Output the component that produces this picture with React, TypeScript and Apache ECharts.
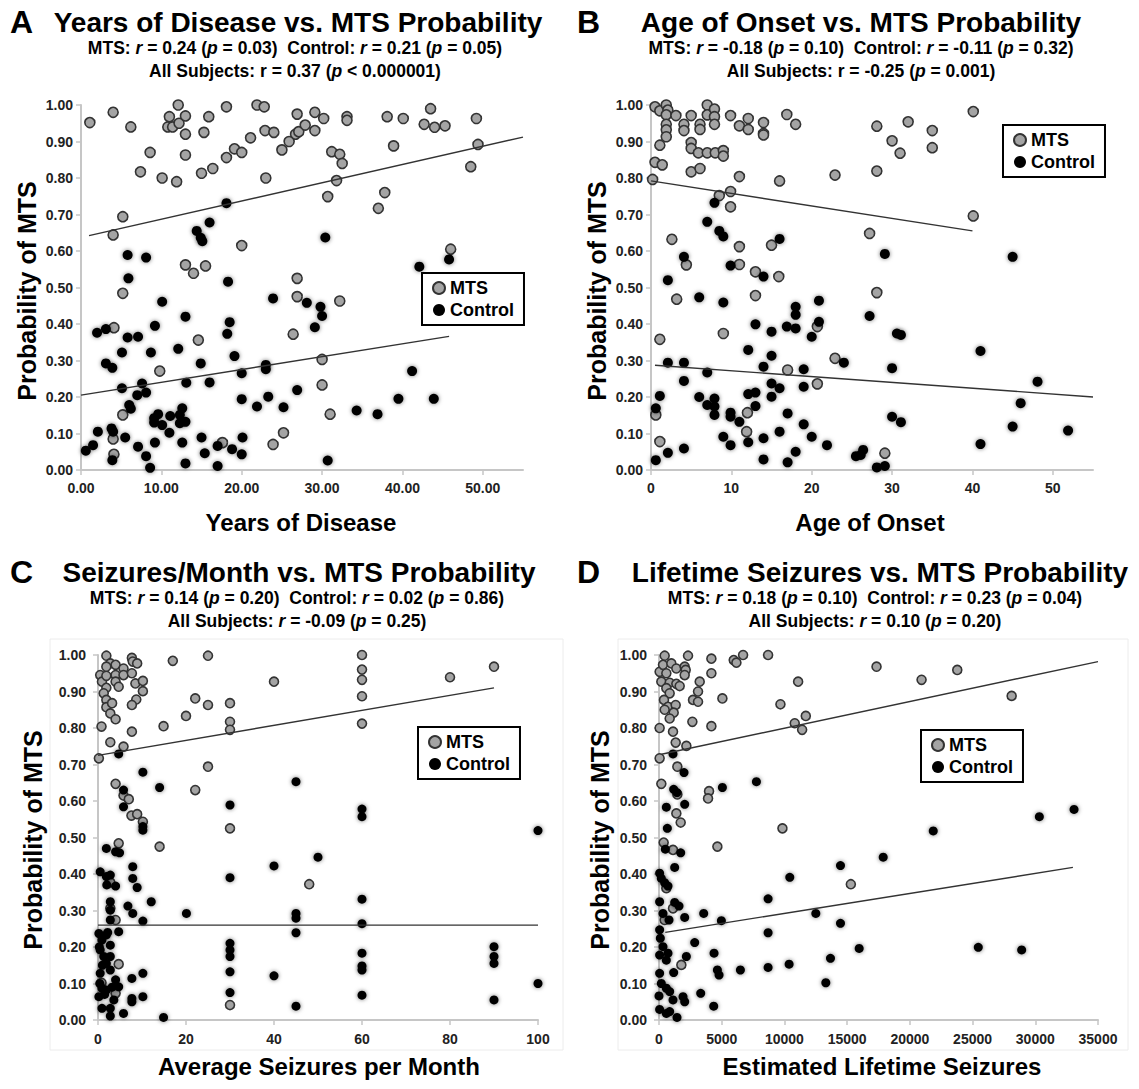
import React, { useEffect, useRef } from "react";
import * as echarts from "echarts";

const FONT = '"Liberation Sans", Arial, Helvetica, sans-serif';

// ---------- data (x, probability of MTS) ----------
const aMts: number[][] = [
  [1.1,0.952],[4.0,0.98],[6.2,0.94],[7.4,0.817],[8.6,0.87],[10.1,0.80],[11.0,0.968],[10.8,0.94],[11.4,0.94],[12.1,1.0],
  [12.2,0.95],[13.0,0.97],[13.0,0.92],[13.0,0.863],[11.9,0.79],[15.0,0.813],[15.9,0.968],[16.4,0.826],[15.3,0.925],[18.1,0.995],
  [18.1,0.856],[19.1,0.88],[20.0,0.87],[21.1,0.91],[21.9,1.0],[22.8,0.995],[22.9,0.93],[24.0,0.925],[23.0,0.80],[25.0,0.877],
  [25.9,0.90],[26.9,0.975],[26.7,0.92],[4.0,0.644],[5.2,0.694],[20.0,0.615],[13.0,0.562],[14.0,0.539],[15.5,0.559],[5.2,0.484],
  [4.1,0.39],[14.6,0.356],[9.8,0.271],[5.2,0.151],[4.0,0.085],[4.1,0.043],[17.6,0.075],[23.9,0.07],[25.2,0.102],[26.9,0.525],
  [26.9,0.475],[26.4,0.372],[27.1,0.927],[27.9,0.945],[29.1,0.98],[29.1,0.93],[30.2,0.963],[31.2,0.872],[32.2,0.865],[32.5,0.84],
  [33.1,0.968],[33.1,0.958],[31.8,0.793],[30.7,0.749],[38.1,0.968],[38.9,0.888],[37.8,0.76],[37.0,0.717],[40.1,0.963],[42.7,0.947],
  [43.5,0.99],[44.0,0.939],[45.3,0.943],[49.2,0.963],[49.4,0.892],[48.5,0.831],[46.0,0.605],[32.2,0.463],[30.0,0.303],[30.0,0.233],
  [31.0,0.153]
];
const aCtrl: number[][] = [
  [0.6,0.053],[1.5,0.068],[2.1,0.105],[2.0,0.376],[3.1,0.386],[3.1,0.292],[3.9,0.28],[5.1,0.224],[5.1,0.322],[5.8,0.363],
  [5.8,0.589],[5.9,0.525],[6.0,0.178],[6.2,0.168],[7.1,0.365],[7.0,0.205],[7.6,0.237],[8.1,0.212],[8.1,0.582],[8.7,0.322],
  [9.2,0.395],[10.1,0.461],[3.8,0.114],[4.0,0.105],[3.9,0.027],[5.5,0.089],[7.1,0.064],[8.1,0.038],[8.6,0.006],[9.2,0.075],
  [9.1,0.13],[9.6,0.153],[9.1,0.142],[10.1,0.123],[11.0,0.102],[11.1,0.148],[12.3,0.151],[12.6,0.169],[12.3,0.128],[13.0,0.132],
  [12.6,0.075],[13.0,0.018],[12.1,0.332],[13.0,0.42],[13.1,0.239],[14.4,0.655],[14.9,0.636],[15.1,0.627],[16.0,0.678],[14.9,0.292],
  [15.0,0.089],[15.4,0.046],[16.0,0.24],[17.0,0.011],[17.0,0.066],[18.1,0.731],[18.3,0.516],[18.5,0.405],[18.2,0.373],[19.1,0.312],
  [18.8,0.057],[20.0,0.265],[20.0,0.194],[20.1,0.089],[20.0,0.043],[21.9,0.174],[23.0,0.288],[23.0,0.276],[23.3,0.201],[23.9,0.47],
  [25.2,0.172],[26.9,0.219],[30.4,0.637],[42.1,0.557],[45.8,0.577],[28.1,0.458],[29.8,0.447],[30.0,0.422],[29.1,0.391],[41.2,0.271],
  [39.5,0.195],[43.9,0.195],[34.3,0.163],[36.9,0.153],[30.7,0.026]
];
const bMts: number[][] = [
  [0.5,0.995],[1.1,0.984],[1.9,1.0],[2.1,0.986],[1.9,0.973],[1.9,0.947],[1.9,0.932],[1.9,0.913],[3.1,0.971],[4.1,0.947],
  [4.1,0.93],[5.0,0.971],[6.1,0.947],[6.1,0.933],[7.0,1.0],[7.0,0.973],[7.9,0.989],[7.9,0.968],[7.9,0.947],[9.9,0.971],
  [11.0,0.943],[12.1,0.963],[12.1,0.933],[14.0,0.952],[14.0,0.922],[14.0,0.918],[16.9,0.974],[18.0,0.947],[5.0,0.897],[5.0,0.881],
  [5.9,0.869],[7.0,0.869],[8.0,0.869],[9.0,0.875],[9.0,0.86],[1.1,0.89],[0.5,0.843],[1.4,0.836],[5.0,0.817],[6.1,0.826],
  [0.2,0.796],[11.0,0.804],[16.0,0.792],[22.9,0.808],[8.5,0.752],[9.9,0.763],[9.9,0.721],[2.6,0.632],[4.4,0.562],[11.0,0.612],
  [11.0,0.563],[15.0,0.616],[13.0,0.543],[15.9,0.53],[3.2,0.468],[13.0,0.478],[9.0,0.374],[1.1,0.358],[12.0,0.157],[11.9,0.105],
  [17.0,0.274],[20.7,0.236],[20.7,0.393],[22.9,0.306],[0.6,0.151],[1.1,0.078],[28.1,0.942],[32.0,0.954],[30.0,0.902],[31.0,0.868],
  [35.0,0.93],[35.0,0.883],[28.1,0.819],[40.1,0.982],[40.1,0.696],[27.2,0.648],[28.1,0.486],[29.1,0.046]
];
const bCtrl: number[][] = [
  [0.6,0.027],[0.6,0.169],[1.1,0.203],[2.1,0.294],[2.1,0.52],[2.1,0.047],[4.1,0.294],[4.1,0.244],[4.1,0.584],[4.1,0.059],
  [6.0,0.473],[6.0,0.2],[7.0,0.267],[7.0,0.178],[7.0,0.68],[7.9,0.732],[8.5,0.655],[9.0,0.64],[9.9,0.068],[9.9,0.157],
  [9.9,0.146],[9.0,0.459],[9.9,0.56],[7.9,0.196],[7.9,0.174],[7.9,0.151],[9.0,0.091],[11.0,0.132],[12.1,0.076],[12.1,0.208],
  [12.1,0.329],[13.0,0.212],[13.0,0.175],[13.0,0.399],[14.0,0.029],[14.0,0.087],[14.0,0.283],[14.0,0.53],[15.0,0.379],[15.0,0.313],
  [15.0,0.237],[15.0,0.201],[16.0,0.633],[16.0,0.224],[16.0,0.105],[17.0,0.021],[17.0,0.155],[16.9,0.393],[18.0,0.447],[18.0,0.425],
  [18.0,0.388],[18.0,0.05],[19.0,0.276],[19.0,0.228],[19.0,0.125],[20.0,0.091],[20.0,0.365],[20.9,0.464],[20.9,0.406],[21.9,0.068],
  [24.0,0.294],[25.5,0.038],[29.1,0.592],[45.0,0.584],[27.2,0.422],[30.6,0.374],[31.1,0.37],[30.0,0.279],[41.0,0.326],[48.1,0.242],
  [46.0,0.183],[45.0,0.119],[51.9,0.108],[41.0,0.071],[30.0,0.146],[31.1,0.131],[26.4,0.055],[26.1,0.041],[28.1,0.007],[29.1,0.011]
];
const cMts: number[][] = [
  [1.9,0.998],[2.8,0.977],[0.5,0.945],[0.9,0.927],[1.9,0.943],[1.9,0.968],[4.0,0.973],[4.0,0.945],[4.0,0.927],[4.7,0.913],
  [5.8,0.963],[5.8,0.945],[7.7,0.992],[7.9,0.982],[8.9,0.977],[7.7,0.95],[8.5,0.922],[10.2,0.929],[10.2,0.901],[8.7,0.878],
  [7.7,0.863],[1.9,0.91],[1.3,0.895],[1.9,0.877],[1.9,0.857],[2.8,0.84],[3.2,0.868],[4.0,0.824],[0.8,0.804],[7.7,0.79],
  [2.8,0.761],[5.8,0.749],[0.2,0.717],[17.0,0.984],[14.9,0.805],[20.0,0.833],[22.1,0.881],[25,0.863],[25,0.998],[30,0.868],
  [30,0.817],[30,0.795],[40,0.927],[25,0.694],[22.1,0.63],[4.0,0.647],[5.8,0.615],[7.0,0.605],[7.6,0.56],[8.9,0.564],
  [10.2,0.543],[30,0.525],[14.0,0.475],[4.7,0.484],[2.8,0.377],[2.8,0.306],[4.0,0.274],[4.7,0.153],[0.8,0.102],[4.0,0.073],
  [30,0.041],[60,1.0],[60,0.96],[60,0.932],[60,0.887],[60,0.812],[80,0.939],[90,0.968],[48,0.372]
];
const cCtrl: number[][] = [
  [0.5,0.406],[1.9,0.393],[2.8,0.397],[2.0,0.37],[4.0,0.367],[2.8,0.324],[2.8,0.301],[2.8,0.274],[1.9,0.47],[4.0,0.461],
  [4.9,0.458],[7.9,0.42],[7.9,0.388],[8.9,0.363],[6.8,0.312],[7.9,0.292],[10.2,0.271],[12.1,0.324],[20.1,0.292],[30,0.39],
  [30,0.589],[14.0,0.637],[10.2,0.679],[4.7,0.729],[5.8,0.63],[5.8,0.584],[10.2,0.53],[10.2,0.52],[40,0.422],[40,0.121],
  [0.2,0.237],[0.9,0.219],[1.9,0.233],[2.8,0.205],[0.5,0.192],[1.3,0.174],[1.9,0.155],[2.8,0.174],[2.8,0.137],[4.7,0.242],
  [0.5,0.128],[0.2,0.064],[0.9,0.087],[1.9,0.082],[4.0,0.11],[4.7,0.091],[3.6,0.055],[0.9,0.032],[2.8,0.032],[2.8,0.011],
  [5.8,0.018],[7.7,0.114],[7.7,0.059],[7.7,0.05],[10.2,0.064],[10.2,0.128],[14.9,0.007],[30,0.21],[30,0.192],[30,0.174],
  [30,0.132],[30,0.075],[0.3,0.2],[1.0,0.15],[0.4,0.1],[1.5,0.07],[3.2,0.09],[2.2,0.24],
  [45,0.653],[60,0.578],[60,0.557],[50,0.446],[60,0.331],[60,0.264],[45,0.292],[45,0.279],[45,0.239],[60,0.183],
  [60,0.148],[60,0.137],[60,0.068],[90,0.201],[90,0.174],[90,0.155],[90,0.055],[100,0.519],[100,0.1],[45,0.038]
];
const dMts: number[][] = [
  [452,0.998],[50,0.954],[320,0.973],[984,0.977],[1383,0.963],[2048,0.968],[2314,0.998],[2128,0.959],[2048,0.945],[585,0.95],
  [186,0.927],[851,0.924],[1383,0.921],[1649,0.915],[585,0.909],[851,0.895],[399,0.877],[718,0.858],[1330,0.863],[452,0.85],
  [1170,0.842],[851,0.826],[2713,0.877],[3112,0.872],[3112,0.9],[3245,0.927],[4176,0.99],[4176,0.95],[5054,0.881],[5958,0.986],
  [6171,0.979],[6703,1.0],[8698,1.0],[11092,0.927],[9682,0.865],[10822,0.813],[11411,0.795],[11704,0.833],[50,0.8],[1117,0.79],
  [2660,0.817],[4176,0.805],[2181,0.751],[1330,0.76],[50,0.717],[1463,0.694],[186,0.647],[1463,0.618],[3990,0.627],[3910,0.607],
  [1383,0.566],[1729,0.541],[9842,0.525],[372,0.486],[1117,0.466],[4655,0.475],[585,0.361],[1117,0.306],[452,0.274],[1782,0.151],
  [15295,0.372],[17343,0.968],[20934,0.932],[23780,0.959],[28116,0.888]
];
const dCtrl: number[][] = [
  [1117,0.729],[1995,0.678],[1170,0.632],[1436,0.623],[2048,0.591],[585,0.583],[665,0.525],[505,0.468],[1729,0.458],[1250,0.418],
  [5054,0.637],[7767,0.653],[14470,0.423],[10427,0.391],[8698,0.332],[50,0.402],[186,0.388],[452,0.376],[718,0.367],[50,0.324],
  [1250,0.322],[1596,0.312],[319,0.292],[798,0.274],[2048,0.281],[3564,0.292],[4974,0.272],[8698,0.239],[12502,0.292],[14470,0.265],
  [50,0.247],[106,0.224],[319,0.201],[50,0.178],[585,0.164],[718,0.183],[2846,0.212],[4389,0.183],[2181,0.174],[1170,0.13],
  [4655,0.137],[4788,0.123],[6490,0.137],[8698,0.144],[10374,0.153],[13672,0.169],[13300,0.102],[50,0.128],[186,0.1],[585,0.087],
  [851,0.078],[0,0.066],[1117,0.055],[1915,0.064],[2048,0.05],[3325,0.073],[4362,0.038],[50,0.029],[585,0.018],[1436,0.007],
  [851,0.023],[21865,0.518],[17875,0.446],[30324,0.557],[33090,0.577],[15960,0.196],[25456,0.199],[28914,0.192]
];

// regression line end points
const aMtsFit = [[1, 0.642], [55, 0.912]];
const aCtrlFit = [[0, 0.205], [45.8, 0.366]];
const bMtsFit = [[0, 0.792], [40, 0.655]];
const bCtrlFit = [[0.5, 0.287], [55, 0.2]];
const cMtsFit = [[0, 0.725], [90, 0.91]];
const cCtrlFit = [[0, 0.26], [100, 0.26]];
const dMtsFit = [[200, 0.728], [35000, 0.982]];
const dCtrlFit = [[500, 0.24], [33000, 0.418]];

const letters = ["A", "B", "C", "D"];
const titles = [
  "Years of Disease vs. MTS Probability",
  "Age of Onset vs. MTS Probability",
  "Seizures/Month vs. MTS Probability",
  "Lifetime Seizures vs. MTS Probability",
];
// [mtsR, mtsP, ctrlR, ctrlP, allR, allPop, allP, italicAllR]
const stats: [string, string, string, string, string, string, string, boolean][] = [
  ["0.24", "0.03", "0.21", "0.05", "0.37", "<", "0.000001", false],
  ["-0.18", "0.10", "-0.11", "0.32", "-0.25", "=", "0.001", false],
  ["0.14", "0.20", "0.02", "0.86", "-0.09", "=", "0.25", true],
  ["0.18", "0.10", "0.23", "0.04", "0.10", "=", "0.20", true],
];
const xTitles = ["Years of Disease", "Age of Onset", "Average Seizures per Month", "Estimated Lifetime Seizures"];
const yTitle = "Probability of MTS";
const seriesNames = ["MTS", "Control"];

const xMax = [55, 55, 100, 35000];
const xInterval = [10, 10, 20, 5000];

// ---------- layout ----------
const grids = [
  { left: 81, top: 105, width: 442, height: 365 },
  { left: 651, top: 105, width: 442, height: 365 },
  { left: 98, top: 655, width: 440, height: 365 },
  { left: 659, top: 655, width: 439, height: 365 },
];
const titleCx = [298, 861, 299, 880];
const subCx = [295, 861, 297, 875];
const letterX = [10, 577, 10, 577];
const xTitlePos = [[301, 522], [870, 522], [319, 1066], [882, 1066]];
const yTitlePos = [[27, 291], [597, 291], [33, 840], [600, 840]];
const legendPos = [[422, 273], [1003, 125], [418, 727], [921, 730]];
const symSize = [10, 10, 9, 9];

export default function App() {
  const ref = useRef<HTMLDivElement>(null);
  useEffect(() => {
    if (!ref.current) return;
    const chart = echarts.init(ref.current, null, { renderer: "svg" });

    const mtsData = [aMts, bMts, cMts, dMts];
    const ctrlData = [aCtrl, bCtrl, cCtrl, dCtrl];
    const mtsFits = [aMtsFit, bMtsFit, cMtsFit, dMtsFit];
    const ctrlFits = [aCtrlFit, bCtrlFit, cCtrlFit, dCtrlFit];

    const xFmt = [
      (v: number) => (v > 50 ? "" : v.toFixed(2)),
      (v: number) => (v > 50 ? "" : String(v)),
      (v: number) => String(v),
      (v: number) => String(v),
    ];

    const series: any[] = [];
    for (let i = 0; i < 4; i++) {
      series.push({
        type: "scatter", name: seriesNames[0], xAxisIndex: i, yAxisIndex: i,
        data: mtsData[i], symbol: "circle", symbolSize: symSize[i], z: 2,
        itemStyle: { color: "#a4a4a4", borderColor: "#333", borderWidth: 1.6, opacity: 1 },
        emphasis: { disabled: true },
      });
      series.push({
        type: "scatter", name: seriesNames[1], xAxisIndex: i, yAxisIndex: i,
        data: ctrlData[i], symbol: "circle", symbolSize: symSize[i], z: 3,
        itemStyle: { color: "#000", shadowBlur: 4, shadowColor: "rgba(0,0,0,0.55)", opacity: 1 },
        emphasis: { disabled: true },
      });
      series.push({
        type: "line", name: "fitM" + i, xAxisIndex: i, yAxisIndex: i, data: mtsFits[i],
        symbol: "none", z: 4, silent: true, lineStyle: { color: "#333", width: 1.4 },
      });
      series.push({
        type: "line", name: "fitC" + i, xAxisIndex: i, yAxisIndex: i, data: ctrlFits[i],
        symbol: "none", z: 4, silent: true, lineStyle: { color: "#333", width: 1.4 },
      });
    }

    const bold = (s: number) => ({ fontSize: s, fontWeight: "bold", fontFamily: FONT, fill: "#000", color: "#000" });
    const ital = (s: number) => ({ fontSize: s, fontWeight: "bold", fontStyle: "italic", fontFamily: FONT, fill: "#000", color: "#000" });

    const graphic: any[] = [];
    // faint frames for lower panels
    graphic.push({ type: "rect", shape: { x: 50, y: 639, width: 513, height: 411 }, style: { fill: "none", stroke: "#ececec", lineWidth: 1 }, z: -1 });
    graphic.push({ type: "rect", shape: { x: 618, y: 639, width: 510, height: 411 }, style: { fill: "none", stroke: "#ececec", lineWidth: 1 }, z: -1 });

    for (let i = 0; i < 4; i++) {
      const top = grids[i].top;
      const st = stats[i];
      graphic.push({
        type: "text", x: letterX[i], y: top - 83,
        style: { text: letters[i], ...bold(32), align: "left", verticalAlign: "middle", textAlign: "left", textVerticalAlign: "middle" },
      });
      graphic.push({
        type: "text", x: titleCx[i], y: top - 83,
        style: { text: titles[i], ...bold(28), align: "center", verticalAlign: "middle", textAlign: "center", textVerticalAlign: "middle" },
      });
      const line1 = `{b|MTS: }{i|r}{b| = ${st[0]} (}{i|p}{b| = ${st[1]})  Control: }{i|r}{b| = ${st[2]} (}{i|p}{b| = ${st[3]})}`;
      const line2 = `{b|All Subjects: }${st[7] ? "{i|r}" : "{b|r}"}{b| = ${st[4]} (}{i|p}{b| ${st[5]} ${st[6]})}`;
      graphic.push({
        type: "text", x: subCx[i], y: top - 57,
        style: { text: line1, rich: { b: bold(17.5), i: ital(17.5) }, ...bold(17.5), align: "center", verticalAlign: "middle", textAlign: "center", textVerticalAlign: "middle" },
      });
      graphic.push({
        type: "text", x: subCx[i], y: top - 34,
        style: { text: line2, rich: { b: bold(17.5), i: ital(17.5) }, ...bold(17.5), align: "center", verticalAlign: "middle", textAlign: "center", textVerticalAlign: "middle" },
      });
      graphic.push({
        type: "text", x: xTitlePos[i][0], y: xTitlePos[i][1],
        style: { text: xTitles[i], ...bold(24), align: "center", verticalAlign: "middle", textAlign: "center", textVerticalAlign: "middle" },
      });
      graphic.push({
        type: "text", x: yTitlePos[i][0], y: yTitlePos[i][1], rotation: Math.PI / 2,
        style: { text: yTitle, ...bold(25), align: "center", verticalAlign: "middle", textAlign: "center", textVerticalAlign: "middle" },
      });
    }

    const option: any = {
      animation: false,
      backgroundColor: "#fff",
      grid: grids.map((g) => ({ ...g, containLabel: false })),
      xAxis: grids.map((_, i) => ({
        type: "value", gridIndex: i, min: 0, max: xMax[i], interval: xInterval[i],
        axisLine: { show: true, onZero: false, lineStyle: { color: "#c6c6c6", width: 2 } },
        axisTick: { show: true, length: 5, lineStyle: { color: "#c6c6c6", width: 1.5 } },
        splitLine: { show: false },
        axisLabel: {
          fontSize: 14, fontWeight: "bold", color: "#222", fontFamily: FONT,
          margin: i < 2 ? 11 : 12, formatter: xFmt[i], showMinLabel: true, showMaxLabel: i >= 2,
        },
      })),
      yAxis: grids.map((_, i) => ({
        type: "value", gridIndex: i, min: 0, max: 1, interval: 0.1,
        axisLine: { show: true, onZero: false, lineStyle: { color: "#c6c6c6", width: 2 } },
        axisTick: { show: true, length: 5, lineStyle: { color: "#c6c6c6", width: 1.5 } },
        splitLine: { show: false },
        axisLabel: {
          fontSize: 14, fontWeight: "bold", color: "#222", fontFamily: FONT,
          margin: i < 2 ? 8 : 12, formatter: (v: number) => v.toFixed(2), showMinLabel: true, showMaxLabel: true,
        },
      })),
      legend: legendPos.map((p) => ({
        left: p[0], top: p[1], orient: "vertical", data: seriesNames, selectedMode: false,
        borderColor: "#000", borderWidth: 2, padding: [6, 10], itemGap: 4, itemWidth: 12, itemHeight: 12,
        backgroundColor: "#fff",
        textStyle: { fontSize: 18, fontWeight: "bold", color: "#000", fontFamily: FONT },
      })),
      series,
      graphic,
    };
    chart.setOption(option);
    return () => chart.dispose();
  }, []);

  return (
    <div
      ref={ref}
      style={{ position: "absolute", left: 0, top: 0, width: 1139, height: 1089, background: "#fff" }}
    />
  );
}
